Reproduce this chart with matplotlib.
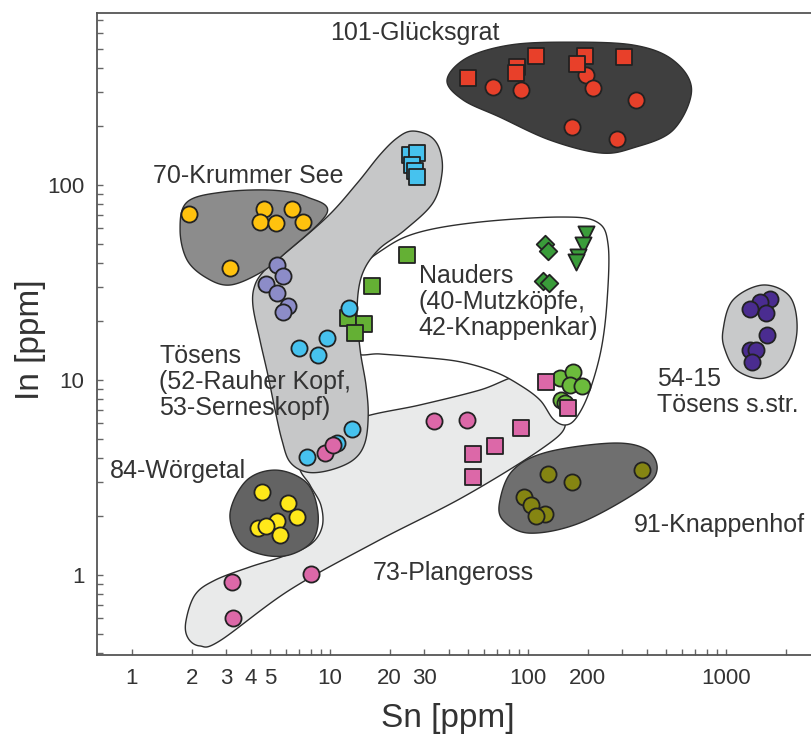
import numpy as np
import matplotlib
matplotlib.use('Agg')
import matplotlib.pyplot as plt
from matplotlib.ticker import FixedLocator, FixedFormatter, NullFormatter

plt.rcParams['font.family'] = ['Liberation Sans', 'DejaVu Sans']

# ---------------- data (Sn ppm, In ppm) ----------------
glu_sq_sn = [49.8, 88.0, 86.9, 110, 194, 177, 305]
glu_sq_in = [354, 403, 375, 459, 459, 417, 453]
glu_ci_sn = [66.6, 92.2, 196, 213, 351, 167, 281]
glu_ci_in = [318, 307, 367, 314, 273, 198, 172]

kru_sn = [1.94, 4.64, 4.43, 5.34, 6.43, 7.31, 3.13]
kru_in = [71, 75, 64.6, 63.8, 75, 64.6, 37.5]

tos_lav_sn = [5.40, 5.79, 4.75, 5.40, 6.14, 5.79]
tos_lav_in = [38.9, 34.1, 31.1, 27.9, 24.0, 22.3]
tos_blue_ci_sn = [12.5, 6.97, 9.66, 8.70, 12.9, 10.8, 7.65]
tos_blue_ci_in = [23.4, 14.6, 16.4, 13.4, 5.61, 4.75, 4.03]
tos_blue_sq_sn = [25.4, 27.5, 25.9, 26.9, 27.5]
tos_blue_sq_in = [143, 146, 127, 118, 110]

nau_sq_sn = [24.5, 16.3, 12.3, 14.9, 13.4]
nau_sq_in = [43.7, 30.3, 20.8, 19.4, 17.4]
nau_di_sn = [122, 126, 119, 128]
nau_di_in = [49.8, 45.9, 32.2, 31.4]
nau_tri_sn = [196, 190, 179, 175]
nau_tri_in = [56.1, 49.2, 42.7, 40.3]
nau_ci_sn = [145, 169, 163, 187, 147, 154]
nau_ci_in = [10.2, 11.0, 9.42, 9.32, 7.89, 7.62]

pla_sq_sn = [123, 159, 92.2, 68.1, 52.7, 52.7]
pla_sq_in = [9.77, 7.18, 5.67, 4.59, 4.18, 3.18]
pla_ci_sn = [33.5, 49.2, 8.02, 3.20, 3.24, 9.44, 10.4]
pla_ci_in = [6.16, 6.24, 1.01, 0.92, 0.60, 4.22, 4.64]

wor_sn = [4.54, 6.14, 6.81, 5.40, 4.33, 4.75, 5.59]
wor_in = [2.67, 2.34, 1.98, 1.89, 1.74, 1.78, 1.60]

kna_sn = [126, 167, 377, 95.5, 104, 122, 110]
kna_in = [3.30, 3.00, 3.45, 2.51, 2.28, 2.05, 2.01]

ts_sn = [1668, 1485, 1322, 1592, 1611, 1322, 1418, 1353]
ts_in = [26.0, 25.1, 23.1, 22.1, 17.0, 14.3, 14.3, 12.4]

# field outlines (Sn, In)
hull_glu = [(39, 345), (49, 448), (81, 522), (158, 540), (340, 522), (540, 437),
            (670, 307), (540, 191), (340, 155), (231, 146), (129, 170), (72, 223), (47, 273)]
hull_kru = [(1.90, 81.8), (2.88, 92), (5.15, 94), (7.65, 86.8), (9.66, 71.8), (5.79, 43.7),
            (4.43, 35.4), (3.13, 30.7), (2.39, 33.3), (1.90, 41.2), (1.75, 58.8)]
hull_tos = [(21.8, 174), (25.9, 189), (32.0, 178), (35.9, 151), (36.8, 115), (33.1, 80.9),
            (23.9, 58.8), (17.5, 46.4), (14.5, 34.5), (13.7, 22.9), (14.2, 14.3), (15.2, 9.42),
            (15.6, 6.62), (15.0, 4.75), (13.1, 3.89), (10.0, 3.45), (7.65, 3.37), (6.28, 3.80),
            (5.72, 4.92), (5.28, 7.02), (4.86, 10.6), (4.43, 16.0), (4.08, 24.2), (4.18, 30.7),
            (4.69, 36.6), (5.72, 43.3), (9.66, 68.5), (13.7, 102), (17.9, 143)]
hull_nau = [(13.5, 34.5), (19.0, 47.5), (28.5, 57.4), (57.3, 64.6), (145, 68.5), (223, 64.6),
            (254, 49.2), (251, 25.7), (234, 14.3), (203, 8.58), (175, 6.38), (154, 5.88),
            (134, 6.31), (115, 7.89), (91, 9.42), (68.1, 11.0), (45.4, 12.4), (28.5, 13.1),
            (17.9, 13.6), (13.5, 13.9), (12.8, 20.3)]
hull_pla = [(1.87, 0.574), (2.08, 0.79), (2.62, 0.94), (3.94, 1.10), (5.72, 1.24), (7.93, 1.43),
            (9.12, 1.76), (9.0, 2.28), (7.93, 2.89), (7.05, 3.66), (8.90, 4.92), (14.2, 6.38),
            (28.5, 7.45), (57.3, 8.89), (88, 10.4), (108, 9.10), (129, 7.18), (154, 5.81),
            (115, 4.38), (47.0, 2.51), (17.3, 1.49), (6.28, 0.84), (2.78, 0.46), (2.20, 0.433),
            (1.92, 0.475)]
hull_wor = [(3.13, 2.08), (3.81, 3.07), (5.40, 3.45), (7.65, 2.96), (8.70, 2.08), (8.20, 1.51),
            (6.28, 1.27), (4.59, 1.27), (3.51, 1.46)]
hull_kna = [(72.2, 2.42), (84.0, 3.45), (125, 4.27), (269, 4.75), (399, 4.38), (448, 3.45),
            (368, 2.73), (183, 1.85), (102, 1.64), (74.8, 1.91)]
hull_ts = [(966, 18.0), (1084, 25.7), (1537, 30.7), (2105, 26.7), (2284, 18.0), (2033, 12.2),
           (1537, 10.2), (1137, 11.2), (988, 14.3)]

x_major = [1, 2, 3, 4, 5, 10, 20, 30, 100, 200, 1000]
x_minor = [6, 7, 8, 9, 40, 50, 60, 70, 80, 90, 300, 400, 500, 600, 700, 800, 900, 2000]
y_major = [1, 10, 100]
y_minor = [0.4, 0.5, 0.6, 0.7, 0.8, 0.9, 2, 3, 4, 5, 6, 7, 8, 9,
           20, 30, 40, 50, 60, 70, 80, 90, 200, 300, 400, 500, 600, 700]


def smooth_closed(pts, n=24):
    p = np.log10(np.array(pts, dtype=float))
    N = len(p)
    t = np.linspace(0, 1, n, endpoint=False)[:, None]
    out = []
    for i in range(N):
        p0, p1, p2, p3 = p[i - 1], p[i], p[(i + 1) % N], p[(i + 2) % N]
        seg = 0.5 * (2 * p1 + (-p0 + p2) * t + (2 * p0 - 5 * p1 + 4 * p2 - p3) * t ** 2
                     + (-p0 + 3 * p1 - 3 * p2 + p3) * t ** 3)
        out.append(seg)
    out = np.vstack(out)
    return 10 ** out[:, 0], 10 ** out[:, 1]


fig = plt.figure(figsize=(8.11, 7.40), dpi=100)
ax = fig.add_axes([97 / 811, 85 / 740, 714 / 811, 642 / 740])
ax.set_xscale('log')
ax.set_yscale('log')

edge = '#2e2e2e'
for pts, fc, z in [(hull_pla, '#e9eaea', 1), (hull_nau, '#ffffff', 2), (hull_tos, '#c6c7c8', 3),
                   (hull_kru, '#8c8c8c', 4), (hull_wor, '#636363', 4), (hull_glu, '#3f3f3f', 4),
                   (hull_kna, '#6f6f6f', 4), (hull_ts, '#c8c9ca', 4)]:
    hx, hy = smooth_closed(pts)
    ax.fill(hx, hy, facecolor=fc, edgecolor=edge, lw=1.0, zorder=z)

mk = dict(edgecolors='#222222', linewidths=1.3, zorder=10)
S = 135
ax.scatter(glu_ci_sn, glu_ci_in, s=S, marker='o', c='#e8402a', **mk)
ax.scatter(glu_sq_sn, glu_sq_in, s=S, marker='s', c='#e8402a', **mk)
ax.scatter(kru_sn, kru_in, s=S, marker='o', c='#ffc20e', **mk)
ax.scatter(tos_lav_sn, tos_lav_in, s=S, marker='o', c='#8c8cc8', **mk)
ax.scatter(nau_sq_sn, nau_sq_in, s=S, marker='s', c='#64b034', **mk)
ax.scatter(tos_blue_sq_sn, tos_blue_sq_in, s=S, marker='s', c='#46c2ee', **mk)
ax.scatter(tos_blue_ci_sn, tos_blue_ci_in, s=S, marker='o', c='#46c2ee', **mk)
ax.scatter(nau_di_sn, nau_di_in, s=80, marker='D', c='#3a9c3a', **mk)
ax.scatter(nau_tri_sn, nau_tri_in, s=S, marker='v', c='#3a9c3a', **mk)
ax.scatter(nau_ci_sn, nau_ci_in, s=S, marker='o', c='#6cbc3c', **mk)
ax.scatter(pla_ci_sn, pla_ci_in, s=S, marker='o', c='#dc68a8', **mk)
ax.scatter(pla_sq_sn, pla_sq_in, s=S, marker='s', c='#dc68a8', **mk)
ax.scatter(wor_sn, wor_in, s=S, marker='o', c='#ffe81a', **mk)
ax.scatter(kna_sn, kna_in, s=S, marker='o', c='#858512', **mk)
ax.scatter(ts_sn, ts_in, s=S, marker='o', c='#4a2c90', **mk)

tc = '#333333'
fs = 18
lab = dict(fontsize=fs, color=tc, ha='left', va='center', zorder=20, linespacing=1.12)
ax.text(10.0, 602, '101-Glücksgrat', **lab)
ax.text(1.28, 111, '70-Krummer See', **lab)
ax.text(28.1, 25.1, 'Nauders\n(40-Mutzköpfe,\n42-Knappenkar)', **lab)
ax.text(1.37, 9.77, 'Tösens\n(52-Rauher Kopf,\n53-Serneskopf)', **lab)
ax.text(0.774, 3.41, '84-Wörgetal', **lab)
ax.text(16.5, 1.02, '73-Plangeross', **lab)
ax.text(448, 8.68, '54-15\nTösens s.str.', **lab)
ax.text(343, 1.80, '91-Knappenhof', **lab)

ax.set_xlim(0.666, 2687)
ax.set_ylim(0.389, 762)

ax.xaxis.set_major_locator(FixedLocator(x_major))
ax.xaxis.set_major_formatter(FixedFormatter([str(v) for v in x_major]))
ax.xaxis.set_minor_locator(FixedLocator(x_minor))
ax.xaxis.set_minor_formatter(NullFormatter())
ax.yaxis.set_major_locator(FixedLocator(y_major))
ax.yaxis.set_major_formatter(FixedFormatter([str(v) for v in y_major]))
ax.yaxis.set_minor_locator(FixedLocator(y_minor))
ax.yaxis.set_minor_formatter(NullFormatter())

for side in ['left', 'bottom', 'top']:
    ax.spines[side].set_color('#555555')
    ax.spines[side].set_linewidth(1.3)
    ax.spines[side].set_zorder(30)
ax.spines['right'].set_visible(False)

ax.tick_params(which='both', direction='in', length=4.5, width=1, color='#666666',
               labelsize=16, labelcolor=tc, pad=9, top=False, right=False)

ax.set_xlabel('Sn [ppm]', fontsize=24, color=tc)
ax.set_ylabel('In [ppm]', fontsize=24, color=tc)
ax.xaxis.set_label_coords((448 - 97) / 714, (655 - 718) / 642)
ax.xaxis.label.set_va('center')
ax.yaxis.set_label_coords((30 - 97) / 714, (655 - 340) / 642)
ax.yaxis.label.set_va('center')

fig.savefig('out.png', dpi=100)
